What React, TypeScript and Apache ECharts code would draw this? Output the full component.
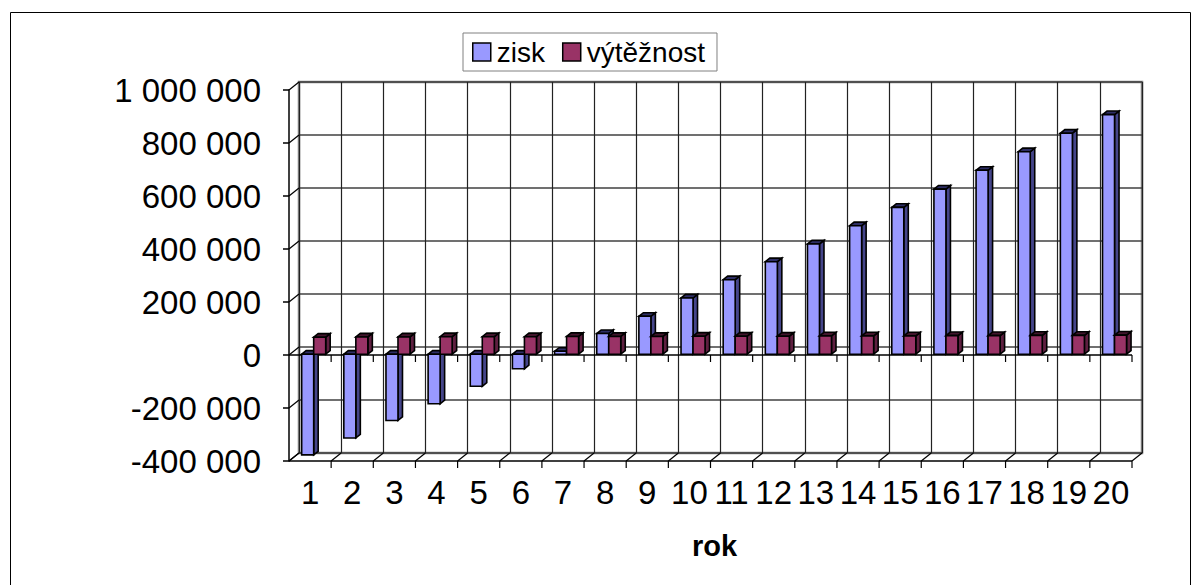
import React, { useEffect, useRef } from "react";
import * as echarts from "echarts";

const categories = ["1","2","3","4","5","6","7","8","9","10","11","12","13","14","15","16","17","18","19","20"];
const zisk = [-380000,-316000,-250000,-187000,-121000,-55000,11000,78000,143000,212000,281000,349000,416000,485000,554000,623000,694000,764000,834000,904000];
const vytěžnost = [64000,65000,65000,66000,66000,66000,67000,67000,67000,68000,68000,68000,69000,69000,69000,70000,70000,71000,71000,72000];
const yTickValues = [-400000,-200000,0,200000,400000,600000,800000,1000000];
const seriesNames = ["zisk", "výtěžnost"];

const FONT = "Liberation Sans, Arial, sans-serif";
const DX = 10, DY = -8;          // wall depth in px
const BDX = 4.5, BDY = -3.6;     // bar depth in px
const BX = 1.5, BY = -0.8;       // bar front plane shift
const Y_MIN = -400000, Y_MAX = 1000000, Y_INT = 200000;

const fmt = (v: number) => {
  const s = String(Math.abs(v)).replace(/\B(?=(\d{3})+(?!\d))/g, " ");
  return (v < 0 ? "-" : "") + s;
};

const colors = [
  { front: "#9999FF", side: "#45458A", top: "#2E2E66" },
  { front: "#993366", side: "#5E1F40", top: "#42152C" },
];

function makeBarRender(k: number) {
  return (params: any, api: any) => {
    const i = api.value(0);
    const v = api.value(1);
    const c0 = api.coord([i, 0]);
    const c1 = api.coord([i, v]);
    const bw = api.size([1, 0])[0];
    const w = bw * 0.285;
    const left = c0[0] - bw / 2 + bw * (0.265 + 0.285 * k) + BX;
    const yTop = Math.min(c0[1], c1[1]) + BY;
    const yBot = Math.max(c0[1], c1[1]) + BY;
    const col = colors[k];
    const ls = { stroke: "#000", lineWidth: 1.6, lineJoin: "miter" };
    return {
      type: "group",
      children: [
        {
          type: "polygon",
          shape: { points: [[left + w, yTop], [left + w + BDX, yTop + BDY], [left + w + BDX, yBot + BDY], [left + w, yBot]] },
          style: { fill: col.side, ...ls },
        },
        {
          type: "polygon",
          shape: { points: [[left, yTop], [left + w, yTop], [left + w + BDX, yTop + BDY], [left + BDX, yTop + BDY]] },
          style: { fill: col.top, ...ls },
        },
        {
          type: "rect",
          shape: { x: left, y: yTop, width: w, height: Math.max(yBot - yTop, 0) },
          style: { fill: col.front, ...ls },
        },
      ],
    };
  };
}

function frameRender(params: any, api: any) {
  const bw = api.size([1, 0])[0];
  const x0 = api.coord([0, 0])[0] - bw / 2;
  const n = categories.length;
  const yZero = api.coord([0, 0])[1];
  const yBottom = api.coord([0, Y_MIN])[1];
  const children: any[] = [];
  const line = (x1: number, y1: number, x2: number, y2: number, w = 1.2, c = "#000") =>
    children.push({ type: "line", shape: { x1, y1, x2, y2 }, style: { stroke: c, lineWidth: w } });
  yTickValues.forEach((v) => {
    const y = api.coord([0, v])[1];
    line(x0, y, x0 + DX, y + DY, 1.2);
  });
  line(x0, yZero, x0 + n * bw, yZero, 1.5);
  for (let i = 1; i <= n; i++) {
    const x = x0 + i * bw;
    line(x, yZero, x, yZero + 7, 1.2);
  }
  line(x0, yBottom, x0 + n * bw, yBottom, 1.5);
  for (let i = 0; i <= n; i++) {
    const x = x0 + i * bw;
    if (i > 0) line(x, yBottom, x, yBottom + 7, 1.2);
    line(x, yBottom, x + DX, yBottom + DY, 1.2);
  }
  return { type: "group", children };
}

export default function App() {
  const ref = useRef<HTMLDivElement>(null);
  useEffect(() => {
    if (!ref.current) return;
    const chart = echarts.init(ref.current, undefined, { renderer: "svg" });
    chart.setOption({
      animation: false,
      backgroundColor: "#fff",
      textStyle: { fontFamily: FONT },
      graphic: [
        {
          type: "rect",
          silent: true,
          z: -10,
          shape: { x: 10.5, y: 12.5, width: 1180, height: 620 },
          style: { fill: "none", stroke: "#000", lineWidth: 1 },
        },
      ],
      legend: {
        data: seriesNames,
        left: 463,
        top: 33,
        orient: "horizontal",
        padding: [5, 12, 5, 9],
        itemGap: 17,
        itemWidth: 18,
        itemHeight: 18,
        icon: "rect",
        borderColor: "#808080",
        borderWidth: 1,
        textStyle: { fontSize: 28, color: "#000", fontFamily: FONT, padding: [0, 0, 0, 1] },
        itemStyle: { borderColor: "#000", borderWidth: 1.5 },
        selectedMode: false,
      },
      grid: [
        { left: 289, top: 90, width: 843, height: 371, containLabel: false },
        { left: 289 + DX, top: 90 + DY, width: 843, height: 371, show: true, borderColor: "#808080", borderWidth: 2.5, backgroundColor: "transparent", z: 0 },
      ],
      xAxis: [
        {
          type: "category",
          gridIndex: 0,
          data: categories,
          axisLine: { show: false },
          axisTick: { show: false },
          axisLabel: { color: "#000", fontSize: 33, margin: 15, fontFamily: FONT, interval: 0 },
          splitLine: { show: false },
          name: "rok",
          nameLocation: "middle",
          nameGap: 70,
          nameTextStyle: { fontSize: 29, fontWeight: "bold", color: "#000", fontFamily: FONT, padding: [0, 0, 0, 8] },
        },
        {
          type: "category",
          gridIndex: 1,
          data: categories,
          axisLine: { show: false },
          axisTick: { show: false },
          axisLabel: { show: false },
          splitLine: { show: true, interval: 0, lineStyle: { color: "#222", width: 1.2 } },
        },
      ],
      yAxis: [
        {
          type: "value",
          gridIndex: 0,
          min: Y_MIN,
          max: Y_MAX,
          interval: Y_INT,
          axisLine: { show: true, lineStyle: { color: "#000", width: 1.5 } },
          axisTick: { show: true, length: 6, lineStyle: { color: "#000", width: 1.5 } },
          axisLabel: { color: "#000", fontSize: 33, margin: 28, formatter: fmt, fontFamily: FONT },
          splitLine: { show: false },
        },
        {
          type: "value",
          gridIndex: 1,
          min: Y_MIN,
          max: Y_MAX,
          interval: Y_INT,
          axisLine: { show: false },
          axisTick: { show: false },
          axisLabel: { show: false },
          splitLine: { show: true, lineStyle: { color: "#404040", width: 1.5 } },
        },
      ],
      series: [
        {
          type: "custom",
          name: "frame",
          xAxisIndex: 0,
          yAxisIndex: 0,
          silent: true,
          z: 1,
          data: [[0, 0]],
          renderItem: frameRender,
        },
        {
          type: "custom",
          name: seriesNames[0],
          xAxisIndex: 0,
          yAxisIndex: 0,
          z: 3,
          itemStyle: { color: colors[0].front },
          data: zisk.map((v, i) => [i, v]),
          encode: { x: 0, y: 1 },
          renderItem: makeBarRender(0),
        },
        {
          type: "custom",
          name: seriesNames[1],
          xAxisIndex: 0,
          yAxisIndex: 0,
          z: 4,
          itemStyle: { color: colors[1].front },
          data: vytěžnost.map((v, i) => [i, v]),
          encode: { x: 0, y: 1 },
          renderItem: makeBarRender(1),
        },
      ],
    });
    return () => chart.dispose();
  }, []);
  return <div ref={ref} style={{ position: "fixed", left: 0, top: 0, width: 1200, height: 585 }} />;
}
